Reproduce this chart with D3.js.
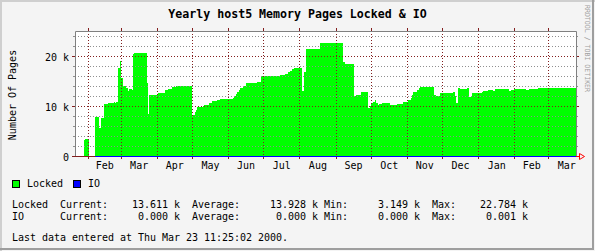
<!DOCTYPE html>
<html>
<head>
<meta charset="utf-8">
<script src="https://cdn.jsdelivr.net/npm/d3@7"></script>
<style>
  body { margin: 0; background: #f4f4f4; }
  svg { display: block; }
  text { font-family: "DejaVu Sans Mono", monospace; fill: #000; }
</style>
</head>
<body>
<div class="vis"></div>
<script>
'use strict';

// step series: date where a level starts, value in pages
var lockedDates = [
	'1999-01-28', '1999-01-29', '1999-02-02', '1999-02-07', '1999-02-10', '1999-02-12',
	'1999-02-14', '1999-02-18', '1999-02-19', '1999-02-23', '1999-02-24', '1999-02-25',
	'1999-02-26', '1999-02-28', '1999-03-01', '1999-03-03', '1999-03-05', '1999-03-07',
	'1999-03-08', '1999-03-10', '1999-03-11', '1999-03-12', '1999-03-23', '1999-03-24',
	'1999-03-25', '1999-03-26', '1999-04-02', '1999-04-08', '1999-04-10', '1999-04-14',
	'1999-04-17', '1999-05-01', '1999-05-03', '1999-05-04', '1999-05-05', '1999-05-10',
	'1999-05-11', '1999-05-15', '1999-05-18', '1999-05-22', '1999-05-25', '1999-06-05',
	'1999-06-06', '1999-06-07', '1999-06-08', '1999-06-10', '1999-06-11', '1999-06-13',
	'1999-06-16', '1999-06-25', '1999-06-29', '1999-07-15', '1999-07-19', '1999-07-22',
	'1999-07-24', '1999-07-25', '1999-07-27', '1999-08-03', '1999-08-05', '1999-08-06',
	'1999-08-18', '1999-08-23', '1999-09-07', '1999-09-09', '1999-09-16', '1999-09-18',
	'1999-09-22', '1999-09-28', '1999-09-30', '1999-10-01', '1999-10-03', '1999-10-04',
	'1999-10-05', '1999-10-07', '1999-10-08', '1999-10-10', '1999-10-17', '1999-10-23',
	'1999-10-28', '1999-11-02', '1999-11-04', '1999-11-05', '1999-11-06', '1999-11-09',
	'1999-11-11', '1999-11-12', '1999-11-24', '1999-11-26', '1999-11-29', '1999-12-10',
	'1999-12-12', '1999-12-13', '1999-12-14', '1999-12-16', '1999-12-22', '1999-12-24',
	'1999-12-26', '2000-01-04', '2000-01-05', '2000-01-09', '2000-01-13', '2000-01-15',
	'2000-01-27', '2000-01-29', '2000-01-31', '2000-02-11', '2000-02-13', '2000-02-21',
	'2000-03-23'
];
var lockedValues = [
	3300, 3600, null, 8000, 5800, 7700,
	10500, 10700, 10800, 11000, 10800, 11000,
	17700, 19100, 15700, 14200, 13700, 13200,
	13500, 13300, 20500, 20700, 14700, 8500,
	12300, 12400, 12700, 13300, 13500, 14000,
	14200, 8300, 9000, 9400, 10000, 10200,
	10400, 10800, 11100, 11400, 11600, 11800,
	12100, 12600, 13000, 13300, 13800, 14200,
	14800, 15000, 16200, 16400, 16600, 16900,
	17200, 17500, 17700, 13100, 16900, 21500,
	22700, 22800, 19000, 18500, 12100, 12400,
	12900, 9800, 10200, 10700, 11000, 11400,
	10700, 10300, 10600, 10800, 10400, 10600,
	11000, 11300, 11800, 12300, 13000, 13400,
	13800, 14000, 12300, 12100, 12700, 13000,
	12200, 10800, 13700, 13500, 13700, 12000,
	12700, 12900, 13100, 13300, 13100, 13600,
	13100, 13300, 13600, 13400, 13600, 13700,
	13611
];
var ioDates = ['1999-02-07', '2000-03-23'];
var ioValues = [0, 0];

var yTicks = [0, 10000, 20000];
var yTickLabels = ['0', '10 k', '20 k'];
var monthNames = ['Jan', 'Feb', 'Mar', 'Apr', 'May', 'Jun', 'Jul', 'Aug', 'Sep', 'Oct', 'Nov', 'Dec'];

var legendNames = ['Locked', 'IO'];
var legendColors = ['#00ff00', '#0000ff'];
var statLines = [
	'Locked  Current:    13.611 k  Average:     13.928 k Min:     3.149 k  Max:    22.784 k',
	'IO      Current:     0.000 k  Average:      0.000 k Min:     0.000 k  Max:     0.001 k'
];
var lastUpdate = 'Last data entered at Thu Mar 23 11:25:02 2000.';

var width = 595;
var height = 251;
var charWidth = 6;

var gridColor = '#8f8f8f';
var majorColor = '#821e1e';
var frameColor = '#808080';

var parse = d3.timeParse('%Y-%m-%d');
var start = d3.timeParse('%Y-%m-%d %H:%M')('1999-01-20 14:24');
var end = d3.timeParse('%Y-%m-%d %H:%M')('2000-03-24 09:36');

var x = d3.scaleTime().domain([start, end]).range([75, 576]);
var y = d3.scaleLinear().domain([0, 25000]).range([156.5, 31.5]);

var svg = d3.select('.vis').append('svg')
	.attr('width', width)
	.attr('height', height);

// background with the 3d shade border
svg.append('rect').attr('width', width).attr('height', height).attr('fill', '#f4f4f4');
svg.append('path').attr('d', 'M0,250 V0 H594').attr('fill', 'none').attr('stroke', '#cfcfcf').attr('stroke-width', 2).attr('transform', 'translate(1,1)');
svg.append('path').attr('d', 'M1,250 H594 V1').attr('fill', 'none').attr('stroke', '#9e9e9e').attr('stroke-width', 2).attr('transform', 'translate(-1,-1)');

// plot canvas
svg.append('rect')
	.attr('x', 75).attr('y', 31)
	.attr('width', 501).attr('height', 125)
	.attr('fill', '#ffffff');

// turn the step list into explicit level runs so gaps stay gaps
var steps = [];
lockedDates.forEach(function(d, i) {
	var from = parse(d);
	var to = i < lockedDates.length - 1 ? parse(lockedDates[i + 1]) : end;
	steps.push({ date: from, v: lockedValues[i] });
	steps.push({ date: to, v: lockedValues[i] });
});

var area = d3.area()
	.defined(function(d) { return d.v !== null; })
	.x(function(d) { return x(d.date); })
	.y0(y(0))
	.y1(function(d) { return y(d.v); });

svg.append('path')
	.datum(steps)
	.attr('d', area)
	.attr('fill', '#00ff00')
	.attr('shape-rendering', 'crispEdges');

// grid on top of the data, as rrdtool does
var months = d3.timeMonth.range(d3.timeMonth.ceil(start), end);

var minor = d3.range(2000, 25000, 2000).filter(function(v) { return v % 10000 !== 0; });
svg.append('g').selectAll('line').data(minor).enter().append('line')
	.attr('x1', 75).attr('x2', 576)
	.attr('y1', function(d) { return y(d); }).attr('y2', function(d) { return y(d); })
	.attr('stroke', gridColor)
	.attr('stroke-dasharray', '1,2');

svg.append('g').selectAll('line').data(yTicks.slice(1)).enter().append('line')
	.attr('x1', 75).attr('x2', 576)
	.attr('y1', function(d) { return y(d); }).attr('y2', function(d) { return y(d); })
	.attr('stroke', majorColor)
	.attr('stroke-dasharray', '1,2');

svg.append('g').selectAll('line').data(months).enter().append('line')
	.attr('x1', function(d) { return Math.floor(x(d)) + 0.5; })
	.attr('x2', function(d) { return Math.floor(x(d)) + 0.5; })
	.attr('y1', 31).attr('y2', 156)
	.attr('stroke', majorColor)
	.attr('stroke-dasharray', '1,2');

// tick marks outside the frame
var ticks = svg.append('g');
minor.forEach(function(v) {
	ticks.append('line').attr('x1', 73).attr('x2', 75).attr('y1', y(v)).attr('y2', y(v)).attr('stroke', gridColor);
	ticks.append('line').attr('x1', 576).attr('x2', 578).attr('y1', y(v)).attr('y2', y(v)).attr('stroke', gridColor);
});
yTicks.forEach(function(v) {
	ticks.append('line').attr('x1', 72).attr('x2', 75).attr('y1', y(v)).attr('y2', y(v)).attr('stroke', majorColor);
	ticks.append('line').attr('x1', 576).attr('x2', 579).attr('y1', y(v)).attr('y2', y(v)).attr('stroke', majorColor);
});
months.forEach(function(m) {
	var px = Math.floor(x(m)) + 0.5;
	ticks.append('line').attr('x1', px).attr('x2', px).attr('y1', 28).attr('y2', 31).attr('stroke', majorColor);
	ticks.append('line').attr('x1', px).attr('x2', px).attr('y1', 156).attr('y2', 159).attr('stroke', majorColor);
});

// frame
svg.append('path')
	.attr('d', 'M75.5,156 V31.5 H576.5 V156')
	.attr('fill', 'none')
	.attr('stroke', frameColor);
svg.append('line')
	.attr('x1', 75).attr('x2', 576).attr('y1', 156.5).attr('y2', 156.5)
	.attr('stroke', majorColor);

// IO line along zero
svg.append('line')
	.attr('x1', x(parse(ioDates[0]))).attr('x2', 576)
	.attr('y1', y(ioValues[0])).attr('y2', y(ioValues[1]))
	.attr('stroke', '#0000ff');

// arrow at the end of the time axis
svg.append('path')
	.attr('d', 'M576,156.5 H580 M579.5,153.5 L584.5,156.5 L579.5,159.5 Z')
	.attr('fill', 'none')
	.attr('stroke', '#ff0000');

// axis labels
svg.append('g').selectAll('text').data(yTicks).enter().append('text')
	.attr('x', 69)
	.attr('y', function(d) { return y(d) + 4; })
	.attr('text-anchor', 'end')
	.attr('font-size', 10)
	.text(function(d, i) { return yTickLabels[i]; });

var labelMonths = d3.timeMonth.range(d3.timeMonth.floor(start), end).filter(function(m) {
	var mid = new Date((+m + +d3.timeMonth.offset(m, 1)) / 2);
	return mid > start && mid < end;
});
svg.append('g').selectAll('text').data(labelMonths).enter().append('text')
	.attr('x', function(m) { return x(new Date((+m + +d3.timeMonth.offset(m, 1)) / 2)); })
	.attr('y', 169)
	.attr('text-anchor', 'middle')
	.attr('font-size', 10)
	.text(function(m) { return monthNames[m.getMonth()]; });

svg.append('text')
	.attr('transform', 'translate(16,95) rotate(-90)')
	.attr('text-anchor', 'middle')
	.attr('font-size', 10)
	.text('Number Of Pages');

svg.append('text')
	.attr('x', 297.5).attr('y', 18)
	.attr('text-anchor', 'middle')
	.attr('font-size', 11.6)
	.attr('font-weight', 'bold')
	.text('Yearly host5 Memory Pages Locked & IO');

svg.append('text')
	.attr('transform', 'translate(585,5) rotate(90)')
	.attr('font-size', 7)
	.attr('textLength', 87)
	.attr('lengthAdjust', 'spacingAndGlyphs')
	.style('fill', '#a0a0a0')
	.text('RRDTOOL / TOBI OETIKER');

// legend
var legend = svg.append('g');
legendNames.forEach(function(name, i) {
	var lx = i === 0 ? 12 : 73;
	legend.append('rect')
		.attr('x', lx + 0.5).attr('y', 180.5)
		.attr('width', 7).attr('height', 7)
		.attr('fill', legendColors[i])
		.attr('stroke', '#000');
	legend.append('text')
		.attr('x', lx + 15).attr('y', 187)
		.attr('font-size', 10)
		.text(name);
});

// the gprint lines sit on a fixed 6px character grid
statLines.forEach(function(line, i) {
	svg.append('text')
		.attr('x', 12).attr('y', 207.5 + i * 12.5)
		.attr('font-size', 10)
		.attr('textLength', line.length * charWidth)
		.attr('lengthAdjust', 'spacing')
		.style('white-space', 'pre')
		.text(line);
});

svg.append('text')
	.attr('x', 12).attr('y', 240.5)
	.attr('font-size', 10)
	.attr('textLength', lastUpdate.length * charWidth)
	.attr('lengthAdjust', 'spacing')
	.style('white-space', 'pre')
	.text(lastUpdate);
</script>
</body>
</html>
